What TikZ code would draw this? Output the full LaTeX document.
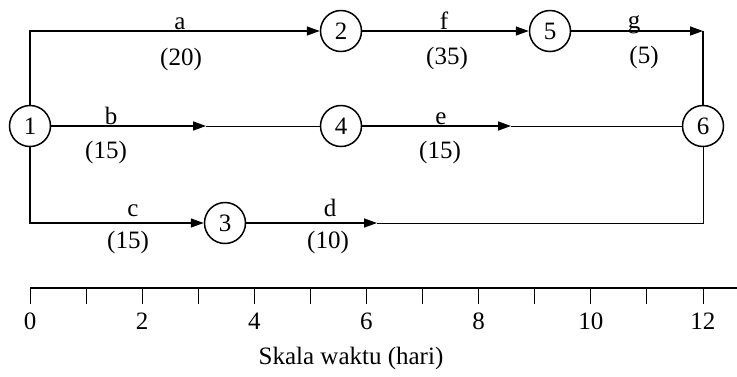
\documentclass[tikz,border=0pt]{standalone}
\usepackage{fontspec}
\setmainfont{Liberation Serif}
\usetikzlibrary{arrows.meta}
\tikzset{
  >={Triangle[length=13pt,width=9pt]},
  evt/.style={draw,circle,line width=1.5pt,minimum size=41pt,inner sep=0pt,fill=white},
  arr/.style={->,line width=1.5pt},
  ln/.style={line width=1pt},
  lab/.style={anchor=base,inner sep=0pt},
  dur/.style={inner sep=0pt},
  tickmark/.style={line width=0.8pt},
}
\begin{document}
\begin{tikzpicture}[x=1pt,y=-1pt,every node/.style={font=\fontsize{25}{27}\selectfont}]
\useasboundingbox (0,0) rectangle (737,376);
% events
\node[evt] (n1) at (30,126) {1};
\node[evt] (n2) at (341,31) {2};
\node[evt] (n3) at (225,223) {3};
\node[evt] (n4) at (341,126) {4};
\node[evt] (n5) at (550,31) {5};
\node[evt] (n6) at (703,126) {6};
\coordinate (b1) at (206,126);
\coordinate (e1) at (511,126);
\coordinate (d1) at (377,223);
\coordinate (g1) at (703,31);
% activities
\draw[arr] (n1) |- (n2);
\draw[arr] (n1) -- (b1);
\draw[ln] (b1) -- (n4);
\draw[arr] (n1) |- (n3);
\draw[arr] (n3) -- (d1);
\draw[ln] (d1) -| (n6);
\draw[arr] (n4) -- (e1);
\draw[ln] (e1) -- (n6);
\draw[arr] (n2) -- (n5);
\draw[arr] (n5) -- (g1);
\draw[line width=1.5pt] (g1) -- (n6);
% labels
\node[lab] (la) at (180,29) {a};
\node[dur] (da) at (181,59) {(20)};
\node[lab] (lb) at (111,124) {b};
\node[dur] (db) at (106,152) {(15)};
\node[lab] (lc) at (133,216) {c};
\node[dur] (dc) at (128,242) {(15)};
\node[lab] (ld) at (330,216) {d};
\node[dur] (dd) at (328,242) {(10)};
\node[lab] (le) at (441,124) {e};
\node[dur] (de) at (440,152) {(15)};
\node[lab] (lf) at (444,29) {f};
\node[dur] (df) at (447,58) {(35)};
\node[lab] (lg) at (634,28) {g};
\node[dur] (dg) at (644,57) {(5)};
% time scale
\draw[line width=1.8pt] (30,288) -- (737,288);
\foreach \i in {0,...,12}
  \draw[tickmark] ({30+\i*56.08},289) -- ({30+\i*56.08},304);
\foreach \i in {0,2,...,12}
  \node (t\i) at ({30+\i*56.08},321) {\i};
\node (skala) at (351,358) {Skala waktu (hari)};
\end{tikzpicture}
\end{document}
